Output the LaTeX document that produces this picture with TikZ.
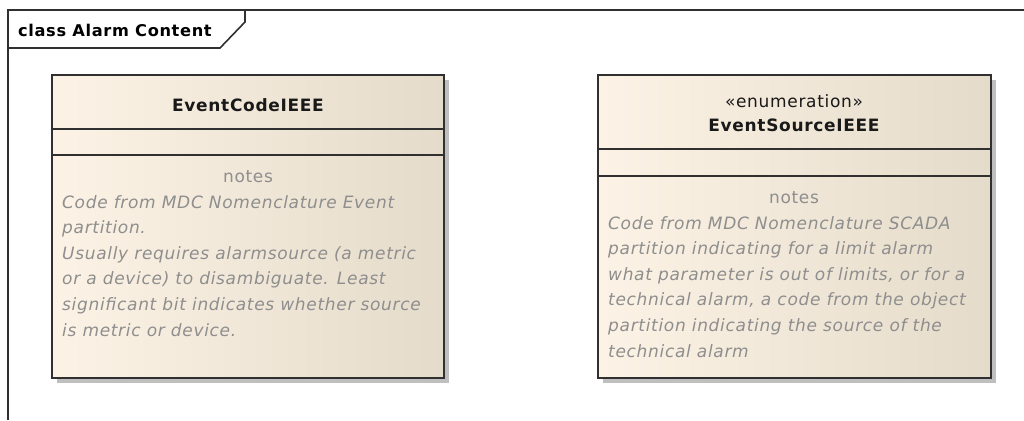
\documentclass[tikz,border=0pt]{standalone}
\usepackage{fontspec}
\setmainfont[LetterSpace=4]{DejaVu Sans}
\usetikzlibrary{positioning}

\definecolor{umlleft}{HTML}{FCF3E6}
\definecolor{umlright}{HTML}{E5DBCA}
\definecolor{umlline}{HTML}{303030}
\definecolor{notegray}{HTML}{8E8E8E}

\begin{document}
\begin{tikzpicture}[x=1pt, y=-1pt,
        umlbox/.style={draw=umlline, line width=2.2pt, left color=umlleft, right color=umlright},
        umlshadow/.style={fill=black!25, draw=none},
        umltitle/.style={font=\bfseries\fontsize{17}{20}\selectfont, text=black!90},
        umlstereo/.style={font=\fontsize{17}{20}\selectfont, text=black!90},
        notehead/.style={font=\fontsize{17}{20}\selectfont, text=notegray},
        notebody/.style={font=\itshape\fontsize{17}{25.6}\selectfont, text=notegray,
            align=left, inner sep=0pt}]
        \useasboundingbox (0,0) rectangle (1024,420);

        % frame
        \draw[umlline, line width=1.6pt] (8,420) -- (8,10) -- (1024,10);
        \draw[umlline, line width=1.6pt] (8,48) -- (220,48) -- (245,22) -- (245,10);
        \node[font=\bfseries\fontsize{16.2}{18}\selectfont, anchor=west, inner sep=0pt] (frametitle) at (18,30) {class Alarm Content};

        % EventCodeIEEE
        \fill[umlshadow] (57,80) rectangle (449,383);
        \draw[umlbox] (52,75) rectangle (444,378);
        \draw[umlline, line width=2.2pt] (52,129) -- (444,129);
        \draw[umlline, line width=2.2pt] (52,155) -- (444,155);
        \node[umltitle] (ecname) at (248,105) {EventCodeIEEE};
        \node[notehead] (ecnotes) at (248,177) {notes};
        \node[notebody, anchor=north west] (ectext) at (62,195) {Code from MDC Nomenclature Event\\
            partition.\\
            Usually requires alarmsource (a metric\\
            or a device) to disambiguate. Least\\
            significant bit indicates whether source\\
            is metric or device.};

        % EventSourceIEEE
        \fill[umlshadow] (603,80) rectangle (996,383);
        \draw[umlbox] (598,75) rectangle (991,378);
        \draw[umlline, line width=2.2pt] (598,149) -- (991,149);
        \draw[umlline, line width=2.2pt] (598,176) -- (991,176);
        \node[umlstereo] (esstereo) at (794,101) {«enumeration»};
        \node[umltitle] (esname) at (794,125) {EventSourceIEEE};
        \node[notehead] (esnotes) at (794,198) {notes};
        \node[notebody, anchor=north west] (estext) at (608,216) {Code from MDC Nomenclature SCADA\\
            partition indicating for a limit alarm\\
            what parameter is out of limits, or for a\\
            technical alarm, a code from the object\\
            partition indicating the source of the\\
            technical alarm};
    \end{tikzpicture}
\end{document}
